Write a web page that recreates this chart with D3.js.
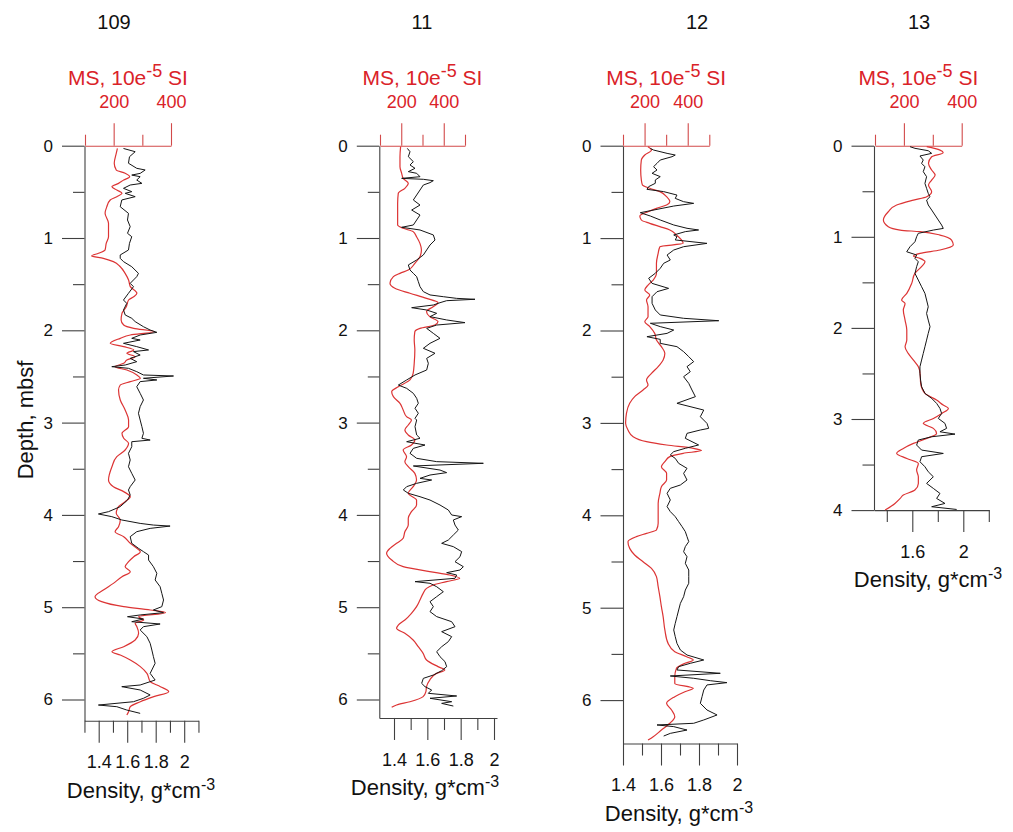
<!DOCTYPE html>
<html>
<head>
<meta charset="utf-8">
<script src="https://cdn.jsdelivr.net/npm/d3@7"></script>
<style>
  body { margin: 0; background: #fff; }
  svg { display: block; }
</style>
</head>
<body>
<svg id="chart" width="1013" height="832"></svg>
<script>
// ---- Core names -----------------------------------------------------------
const coreNames = ["109", "11", "12", "13"];

// ---- Tick values and labels ---------------------------------------------
const depthTicks6 = [0, 0.5, 1, 1.5, 2, 2.5, 3, 3.5, 4, 4.5, 5, 5.5, 6];
const depthTicks4 = [0, 0.5, 1, 1.5, 2, 2.5, 3, 3.5, 4];
const densTicks109 = [1.3, 1.4, 1.5, 1.6, 1.7, 1.8, 1.9, 2.0, 2.1];
const densTicks11 = [1.4, 1.5, 1.6, 1.7, 1.8, 1.9, 2.0];
const densTicks12 = [1.4, 1.5, 1.6, 1.7, 1.8, 1.9, 2.0];
const densTicks13 = [1.4, 1.6, 1.8, 2.0, 2.2];
const densLabels = [1.4, 1.6, 1.8, 2.0];
const densLabels13 = [1.6, 2.0];
const msTicks4 = [100, 200, 300, 400];
const msTicks5 = [100, 200, 300, 400, 500];
const msLabels = [200, 400];

// ---- Density profiles [depth m, g*cm-3] -----------------------------------
const dens109 = [[0.03,1.574],[0.065,1.656],[0.12,1.616],[0.19,1.609],[0.245,1.667],[0.263,1.726],[0.3,1.691],[0.318,1.632],[0.336,1.691],[0.372,1.667],[0.408,1.703],[0.426,1.621],[0.462,1.574],[0.498,1.632],[0.516,1.586],[0.552,1.656],[0.588,1.562],[0.661,1.551],[0.733,1.609],[0.805,1.602],[0.877,1.621],[0.949,1.602],[0.986,1.632],[1.058,1.616],[1.13,1.609],[1.184,1.551],[1.22,1.551],[1.256,1.574],[1.311,1.632],[1.383,1.679],[1.419,1.667],[1.455,1.644],[1.491,1.621],[1.527,1.644],[1.599,1.609],[1.672,1.574],[1.708,1.597],[1.78,1.574],[1.834,1.586],[1.87,1.632],[1.906,1.656],[1.961,1.714],[1.997,1.761],[2.022,1.808],[2.051,1.691],[2.087,1.632],[2.105,1.691],[2.141,1.574],[2.177,1.667],[2.213,1.75],[2.231,1.644],[2.268,1.691],[2.304,1.621],[2.34,1.667],[2.376,1.586],[2.394,1.492],[2.412,1.609],[2.448,1.667],[2.484,1.714],[2.495,1.925],[2.52,1.714],[2.538,1.808],[2.556,1.691],[2.611,1.667],[2.683,1.691],[2.755,1.714],[2.827,1.691],[2.899,1.679],[2.972,1.691],[3.044,1.703],[3.116,1.714],[3.17,1.703],[3.189,1.761],[3.207,1.632],[3.261,1.632],[3.333,1.609],[3.405,1.621],[3.478,1.609],[3.55,1.632],[3.622,1.656],[3.694,1.621],[3.73,1.609],[3.784,1.621],[3.839,1.602],[3.911,1.551],[3.965,1.469],[3.99,1.398],[4.019,1.492],[4.055,1.562],[4.092,1.691],[4.11,1.784],[4.121,1.901],[4.146,1.761],[4.182,1.667],[4.236,1.621],[4.308,1.632],[4.362,1.679],[4.398,1.714],[4.435,1.75],[4.489,1.75],[4.561,1.784],[4.633,1.808],[4.705,1.796],[4.778,1.831],[4.85,1.843],[4.922,1.855],[4.994,1.843],[5.03,1.784],[5.059,1.855],[5.084,1.691],[5.103,1.602],[5.128,1.714],[5.157,1.632],[5.182,1.831],[5.211,1.714],[5.247,1.691],[5.319,1.738],[5.391,1.761],[5.464,1.773],[5.536,1.784],[5.608,1.796],[5.717,1.761],[5.789,1.796],[5.843,1.691],[5.861,1.562],[5.897,1.691],[5.951,1.761],[5.987,1.714],[6.024,1.644],[6.06,1.398],[6.078,1.527],[6.114,1.597],[6.15,1.691]];

const dens11 = [[0.029,1.48],[0.065,1.496],[0.119,1.486],[0.173,1.516],[0.209,1.496],[0.245,1.526],[0.281,1.486],[0.299,1.536],[0.336,1.556],[0.354,1.446],[0.364,1.576],[0.379,1.636],[0.4,1.616],[0.426,1.576],[0.48,1.556],[0.534,1.536],[0.588,1.516],[0.643,1.556],[0.697,1.506],[0.751,1.556],[0.805,1.536],[0.859,1.516],[0.884,1.446],[0.913,1.556],[0.967,1.636],[1.022,1.646],[1.076,1.616],[1.13,1.596],[1.184,1.576],[1.238,1.536],[1.292,1.486],[1.347,1.496],[1.383,1.516],[1.419,1.536],[1.473,1.546],[1.527,1.556],[1.581,1.576],[1.617,1.616],[1.636,1.696],[1.654,1.776],[1.664,1.886],[1.679,1.716],[1.701,1.676],[1.726,1.636],[1.755,1.506],[1.78,1.596],[1.816,1.656],[1.852,1.616],[1.888,1.716],[1.917,1.826],[1.943,1.656],[1.979,1.596],[2.033,1.636],[2.087,1.676],[2.141,1.616],[2.195,1.576],[2.249,1.646],[2.304,1.596],[2.358,1.606],[2.43,1.596],[2.484,1.526],[2.538,1.476],[2.593,1.426],[2.629,1.476],[2.683,1.516],[2.737,1.536],[2.791,1.546],[2.845,1.526],[2.899,1.546],[2.954,1.526],[2.972,1.536],[3.044,1.526],[3.134,1.536],[3.17,1.556],[3.207,1.476],[3.243,1.586],[3.279,1.516],[3.333,1.496],[3.387,1.536],[3.423,1.656],[3.441,1.936],[3.47,1.516],[3.514,1.676],[3.542,1.716],[3.568,1.616],[3.604,1.556],[3.622,1.626],[3.658,1.536],[3.694,1.476],[3.73,1.456],[3.766,1.486],[3.803,1.556],[3.839,1.616],[3.893,1.676],[3.947,1.726],[4.001,1.746],[4.019,1.806],[4.055,1.756],[4.11,1.766],[4.164,1.786],[4.218,1.756],[4.272,1.726],[4.308,1.686],[4.344,1.756],[4.398,1.806],[4.453,1.796],[4.507,1.766],[4.561,1.816],[4.597,1.796],[4.626,1.716],[4.651,1.776],[4.687,1.766],[4.723,1.526],[4.741,1.616],[4.778,1.656],[4.832,1.696],[4.886,1.656],[4.94,1.616],[4.994,1.636],[5.048,1.616],[5.102,1.656],[5.157,1.746],[5.211,1.766],[5.265,1.686],[5.319,1.746],[5.373,1.726],[5.428,1.686],[5.482,1.656],[5.536,1.676],[5.59,1.706],[5.644,1.716],[5.688,1.686],[5.735,1.636],[5.771,1.576],[5.825,1.566],[5.861,1.586],[5.897,1.626],[5.933,1.606],[5.962,1.776],[5.987,1.616],[6.024,1.746],[6.042,1.686],[6.071,1.756]];

const dens12 = [[0.029,1.544],[0.047,1.561],[0.083,1.632],[0.101,1.675],[0.119,1.658],[0.155,1.596],[0.191,1.579],[0.227,1.561],[0.263,1.579],[0.299,1.553],[0.335,1.596],[0.371,1.57],[0.407,1.57],[0.443,1.535],[0.472,1.526],[0.497,1.614],[0.534,1.684],[0.57,1.675],[0.606,1.719],[0.624,1.772],[0.653,1.667],[0.689,1.579],[0.725,1.491],[0.761,1.544],[0.804,1.596],[0.858,1.667],[0.894,1.737],[0.912,1.798],[0.93,1.728],[0.966,1.667],[0.984,1.684],[1.02,1.675],[1.057,1.842],[1.093,1.719],[1.129,1.667],[1.183,1.632],[1.237,1.649],[1.273,1.614],[1.327,1.596],[1.381,1.57],[1.435,1.535],[1.49,1.553],[1.544,1.64],[1.58,1.579],[1.634,1.553],[1.706,1.553],[1.778,1.57],[1.832,1.596],[1.868,1.719],[1.894,1.904],[1.922,1.544],[1.958,1.596],[1.995,1.667],[2.031,1.632],[2.067,1.526],[2.096,1.596],[2.139,1.596],[2.175,1.684],[2.229,1.719],[2.283,1.746],[2.337,1.772],[2.391,1.737],[2.446,1.754],[2.5,1.719],[2.572,1.746],[2.644,1.763],[2.716,1.781],[2.788,1.684],[2.861,1.825],[2.933,1.807],[3.005,1.842],[3.059,1.851],[3.077,1.807],[3.113,1.737],[3.167,1.728],[3.239,1.798],[3.275,1.728],[3.311,1.667],[3.347,1.649],[3.384,1.675],[3.438,1.693],[3.492,1.737],[3.546,1.719],[3.618,1.737],[3.672,1.702],[3.708,1.649],[3.762,1.632],[3.834,1.649],[3.906,1.632],[3.96,1.649],[4.015,1.675],[4.069,1.693],[4.123,1.711],[4.177,1.728],[4.231,1.737],[4.285,1.746],[4.339,1.728],[4.394,1.719],[4.448,1.737],[4.52,1.728],[4.592,1.746],[4.664,1.746],[4.736,1.746],[4.809,1.728],[4.881,1.719],[4.953,1.702],[5.025,1.693],[5.097,1.684],[5.169,1.675],[5.241,1.667],[5.314,1.675],[5.386,1.684],[5.458,1.702],[5.512,1.737],[5.566,1.825],[5.602,1.754],[5.638,1.693],[5.674,1.684],[5.71,1.912],[5.739,1.649],[5.764,1.772],[5.79,1.86],[5.811,1.947],[5.836,1.842],[5.891,1.825],[5.963,1.816],[6.035,1.807],[6.107,1.842],[6.161,1.895],[6.215,1.825],[6.251,1.772],[6.269,1.579],[6.287,1.667],[6.324,1.737],[6.36,1.649],[6.389,1.614]];

const dens13 = [[0.011,1.582],[0.029,1.621],[0.055,1.725],[0.084,1.752],[0.113,1.66],[0.157,1.686],[0.194,1.673],[0.231,1.699],[0.285,1.686],[0.34,1.712],[0.414,1.699],[0.468,1.712],[0.523,1.725],[0.56,1.739],[0.597,1.712],[0.651,1.725],[0.706,1.752],[0.761,1.778],[0.816,1.804],[0.871,1.83],[0.908,1.843],[0.926,1.765],[0.962,1.647],[0.999,1.634],[1.054,1.621],[1.109,1.582],[1.164,1.556],[1.2,1.634],[1.237,1.621],[1.274,1.647],[1.328,1.634],[1.402,1.621],[1.475,1.647],[1.548,1.673],[1.621,1.699],[1.694,1.712],[1.768,1.725],[1.841,1.712],[1.914,1.725],[1.987,1.739],[2.06,1.725],[2.134,1.712],[2.207,1.699],[2.28,1.686],[2.353,1.673],[2.426,1.66],[2.5,1.66],[2.573,1.665],[2.646,1.673],[2.719,1.699],[2.774,1.752],[2.829,1.791],[2.884,1.817],[2.939,1.83],[2.994,1.804],[3.048,1.856],[3.103,1.869],[3.14,1.817],[3.166,1.935],[3.195,1.752],[3.231,1.647],[3.286,1.634],[3.341,1.673],[3.378,1.843],[3.414,1.673],[3.469,1.66],[3.524,1.699],[3.579,1.725],[3.634,1.765],[3.707,1.712],[3.762,1.765],[3.817,1.817],[3.872,1.791],[3.927,1.856],[3.963,1.752],[3.993,1.948]];

// ---- Magnetic susceptibility profiles [depth m, 10e-5 SI] ------------------
const ms109 = [[0.029,213],[0.083,209],[0.191,202],[0.263,209],[0.299,240],[0.336,256],[0.372,235],[0.408,217],[0.444,194],[0.48,211],[0.516,229],[0.552,211],[0.588,188],[0.661,176],[0.733,170],[0.841,182],[0.913,182],[0.986,182],[1.058,174],[1.13,170],[1.166,147],[1.195,123],[1.22,164],[1.256,199],[1.311,223],[1.383,240],[1.455,252],[1.527,258],[1.599,281],[1.636,270],[1.672,252],[1.744,244],[1.816,229],[1.888,226],[1.943,235],[1.979,270],[2.015,340],[2.051,258],[2.087,223],[2.141,188],[2.177,235],[2.213,270],[2.249,246],[2.286,275],[2.322,246],[2.358,235],[2.394,205],[2.43,246],[2.484,281],[2.52,293],[2.556,258],[2.593,223],[2.647,217],[2.755,223],[2.863,240],[2.972,252],[3.044,252],[3.116,229],[3.17,235],[3.225,252],[3.297,240],[3.369,211],[3.478,194],[3.622,182],[3.694,199],[3.748,235],[3.803,258],[3.857,240],[3.911,217],[3.983,209],[4.055,223],[4.128,217],[4.182,205],[4.236,235],[4.308,258],[4.362,281],[4.398,293],[4.453,270],[4.507,252],[4.561,240],[4.615,258],[4.669,229],[4.742,199],[4.814,164],[4.886,135],[4.94,158],[4.994,235],[5.03,328],[5.059,381],[5.103,287],[5.139,305],[5.175,275],[5.211,281],[5.283,287],[5.355,275],[5.428,235],[5.482,194],[5.518,223],[5.572,258],[5.644,293],[5.717,316],[5.807,328],[5.861,363],[5.915,392],[5.969,340],[6.024,293],[6.078,258],[6.132,252],[6.168,246]];

const ms11 = [[0.01,197],[0.119,194],[0.227,194],[0.299,202],[0.354,209],[0.408,233],[0.462,217],[0.516,186],[0.625,183],[0.769,183],[0.859,183],[0.895,209],[0.931,256],[0.986,272],[1.058,288],[1.13,295],[1.202,288],[1.274,264],[1.347,233],[1.383,194],[1.419,163],[1.491,147],[1.545,170],[1.599,241],[1.654,319],[1.701,373],[1.744,350],[1.798,319],[1.852,334],[1.906,373],[1.943,358],[1.979,288],[2.015,264],[2.105,261],[2.213,264],[2.358,261],[2.466,256],[2.538,241],[2.611,186],[2.665,155],[2.719,163],[2.791,194],[2.863,209],[2.936,225],[2.972,248],[3.026,233],[3.08,217],[3.134,233],[3.189,264],[3.243,248],[3.297,209],[3.369,225],[3.423,217],[3.478,233],[3.55,264],[3.622,272],[3.694,256],[3.766,233],[3.839,272],[3.893,272],[3.965,248],[4.037,233],[4.11,233],[4.182,217],[4.254,209],[4.308,178],[4.362,147],[4.416,131],[4.489,155],[4.561,209],[4.615,334],[4.651,428],[4.687,475],[4.723,413],[4.759,350],[4.796,319],[4.85,303],[4.922,288],[4.994,272],[5.066,248],[5.139,217],[5.193,186],[5.229,178],[5.283,217],[5.355,256],[5.428,280],[5.5,303],[5.572,319],[5.644,373],[5.681,405],[5.717,366],[5.789,334],[5.861,319],[5.915,316],[5.969,303],[6.024,241],[6.06,178],[6.085,155]];

const ms12 = [[0.01,216],[0.047,232],[0.101,201],[0.155,185],[0.263,182],[0.371,185],[0.425,190],[0.461,224],[0.497,271],[0.552,302],[0.606,317],[0.642,302],[0.678,255],[0.714,216],[0.761,178],[0.804,185],[0.84,224],[0.876,271],[0.912,317],[0.966,348],[1.02,371],[1.057,379],[1.093,271],[1.165,263],[1.273,255],[1.381,255],[1.454,240],[1.508,216],[1.562,201],[1.616,224],[1.67,209],[1.742,216],[1.85,216],[1.904,201],[1.958,224],[2.031,247],[2.103,255],[2.175,278],[2.247,294],[2.319,286],[2.391,263],[2.464,232],[2.536,209],[2.59,216],[2.644,193],[2.716,154],[2.788,131],[2.897,116],[3.005,112],[3.077,123],[3.149,147],[3.203,209],[3.239,302],[3.275,426],[3.3,464],[3.329,379],[3.365,317],[3.42,294],[3.474,278],[3.546,302],[3.618,302],[3.69,278],[3.762,271],[3.87,263],[3.979,263],[4.087,263],[4.159,255],[4.195,209],[4.231,162],[4.285,123],[4.358,131],[4.43,154],[4.502,193],[4.574,232],[4.664,255],[4.773,263],[4.881,271],[4.989,278],[5.097,286],[5.241,294],[5.386,309],[5.476,340],[5.53,395],[5.566,426],[5.602,387],[5.656,348],[5.746,340],[5.819,340],[5.873,426],[5.909,387],[5.963,340],[6.035,302],[6.107,325],[6.179,340],[6.251,317],[6.324,278],[6.396,240],[6.432,216]];

const ms13 = [[0.011,279],[0.048,325],[0.077,336],[0.121,296],[0.194,285],[0.267,296],[0.322,308],[0.377,296],[0.432,285],[0.505,296],[0.56,279],[0.597,233],[0.651,175],[0.725,146],[0.816,129],[0.889,146],[0.926,187],[0.944,256],[0.981,325],[1.036,365],[1.091,371],[1.145,325],[1.182,256],[1.211,233],[1.237,256],[1.274,273],[1.328,261],[1.402,238],[1.511,227],[1.621,210],[1.694,192],[1.731,204],[1.804,198],[1.914,204],[2.024,210],[2.134,210],[2.207,204],[2.28,215],[2.353,233],[2.426,250],[2.5,256],[2.609,258],[2.719,273],[2.792,313],[2.847,336],[2.884,354],[2.939,331],[2.994,302],[3.048,267],[3.103,302],[3.158,313],[3.213,279],[3.268,233],[3.323,198],[3.378,175],[3.433,210],[3.488,250],[3.561,244],[3.634,250],[3.707,250],[3.78,238],[3.835,198],[3.872,187],[3.927,169],[4.0,135]];

// ---- Panel assembly -------------------------------------------------------
const cores = [
  { name: coreNames[0], dens: dens109, ms: ms109, depthTicks: depthTicks6,
    densTicks: densTicks109, densLabels: densLabels, msTicks: msTicks4 },
  { name: coreNames[1], dens: dens11, ms: ms11, depthTicks: depthTicks6,
    densTicks: densTicks11, densLabels: densLabels, msTicks: msTicks5 },
  { name: coreNames[2], dens: dens12, ms: ms12, depthTicks: depthTicks6,
    densTicks: densTicks12, densLabels: densLabels, msTicks: msTicks5 },
  { name: coreNames[3], dens: dens13, ms: ms13, depthTicks: depthTicks4,
    densTicks: densTicks13, densLabels: densLabels13, msTicks: msTicks4 }
];

// Geometry of each log column (pixels)
const layout = [
  { x0: 84.5, yTop: 145.7, yPerM: 92.3, depthMax: 6.23,
    densAt: [[1.4, 98.7], [2.0, 184.2]], densEnd: 198.5,
    msRange: [85, 171], msDomain: [100, 400],
    titleX: 114, densTitleX: 141 },
  { x0: 379.3, yTop: 145.7, yPerM: 92.3, depthMax: 6.2,
    densAt: [[1.4, 394], [2.0, 494]], densEnd: 497,
    msRange: [380, 465], msDomain: [100, 500],
    titleX: 422, densTitleX: 425 },
  { x0: 623, yTop: 145.7, yPerM: 92.4, depthMax: 6.47,
    densAt: [[1.4, 623], [2.0, 737]], densEnd: 737,
    msRange: [623, 709.3], msDomain: [100, 500],
    titleX: 697, densTitleX: 679 },
  { x0: 874, yTop: 145.7, yPerM: 91.1, depthMax: 4.0,
    densAt: [[1.6, 912.3], [2.0, 963.3]], densEnd: 989,
    msRange: [875, 961.7], msDomain: [100, 400],
    titleX: 919, densTitleX: 928 }
];

const FONT = "Arial, 'Liberation Sans', Helvetica, sans-serif";
const AXIS = "#404040";
const RED_TEXT = "#da2228";
const RED_AXIS = "#d24a4a";
const RED_LINE = "#dc3434";
const BLACK_LINE = "#151515";

const svg = d3.select("#chart");
const fmt1 = d => String(+d.toFixed(1));
const has = (arr, v) => arr.some(a => Math.abs(a - v) < 1e-6);

cores.forEach((c, i) => {
  const L = layout[i];
  const g = svg.append("g").attr("font-family", FONT);
  const yBottom = L.yTop + L.depthMax * L.yPerM;

  const y = d3.scaleLinear().domain([0, L.depthMax]).range([L.yTop, yBottom]);
  const xD0 = d3.scaleLinear().domain(L.densAt.map(a => a[0])).range(L.densAt.map(a => a[1]));
  const xD = d3.scaleLinear()
    .domain([xD0.invert(L.x0), xD0.invert(L.densEnd)])
    .range([L.x0, L.densEnd]);
  const xM = d3.scaleLinear().domain(L.msDomain).range(L.msRange);

  // core title
  g.append("text").attr("x", L.titleX).attr("y", 29)
    .attr("text-anchor", "middle").attr("font-size", 20).attr("fill", "#111")
    .text(c.name);

  // depth axis
  const depthAxis = d3.axisLeft(y).tickValues(c.depthTicks)
    .tickSize(22.5).tickSizeOuter(0).tickPadding(9)
    .tickFormat(d => Number.isInteger(d) ? String(d) : "");
  const gDepth = g.append("g").attr("transform", `translate(${L.x0},0)`).call(depthAxis);
  gDepth.attr("font-family", FONT).attr("font-size", 17);
  gDepth.select(".domain").attr("stroke", AXIS).attr("stroke-width", 1.1);
  gDepth.selectAll(".tick line").attr("stroke", AXIS).attr("stroke-width", 1.1)
    .filter(d => !Number.isInteger(d)).attr("x2", -11.5);
  gDepth.selectAll(".tick text").attr("fill", "#111");

  // density axis at the bottom of the column
  const densAxis = d3.axisBottom(xD).tickValues(c.densTicks)
    .tickSize(22).tickSizeOuter(0).tickPadding(13)
    .tickFormat(d => has(c.densLabels, d) ? fmt1(d) : "");
  const gDens = g.append("g").attr("transform", `translate(0,${yBottom})`).call(densAxis);
  gDens.attr("font-family", FONT).attr("font-size", 18);
  gDens.select(".domain").attr("stroke", AXIS).attr("stroke-width", 1.1);
  gDens.selectAll(".tick line").attr("stroke", AXIS).attr("stroke-width", 1.1)
    .filter(d => !has(c.densLabels, d)).attr("y2", 12);
  gDens.selectAll(".tick text").attr("fill", "#111");

  const dt = g.append("text").attr("x", L.densTitleX).attr("y", yBottom + 77)
    .attr("text-anchor", "middle").attr("font-size", 22).attr("fill", "#111");
  dt.append("tspan").text("Density, g*cm");
  dt.append("tspan").attr("font-size", 16).attr("dy", -8).text("-3");

  // magnetic susceptibility axis on top
  const msAxis = d3.axisTop(xM).tickValues(c.msTicks)
    .tickSize(22.5).tickSizeOuter(0).tickPadding(15)
    .tickFormat(d => has(msLabels, d) ? String(d) : "");
  const gMs = g.append("g").attr("transform", `translate(0,${L.yTop})`).call(msAxis);
  gMs.attr("font-family", FONT).attr("font-size", 18);
  gMs.select(".domain").attr("stroke", RED_AXIS).attr("stroke-width", 1.1);
  gMs.selectAll(".tick line").attr("stroke", RED_AXIS).attr("stroke-width", 1.1)
    .filter(d => !has(msLabels, d)).attr("y2", -11);
  gMs.selectAll(".tick text").attr("fill", RED_TEXT);

  const mt = g.append("text").attr("x", (L.msRange[0] + L.msRange[1]) / 2).attr("y", 84.5)
    .attr("text-anchor", "middle").attr("font-size", 21).attr("fill", RED_TEXT);
  mt.append("tspan").text("MS, 10e");
  mt.append("tspan").attr("font-size", 18).attr("dy", -8).text("-5");
  mt.append("tspan").attr("dy", 8).text(" SI");

  // profiles
  const densLine = d3.line().x(d => xD(d[1])).y(d => y(d[0]));
  const msLine = d3.line().x(d => xM(d[1])).y(d => y(d[0])).curve(d3.curveMonotoneY);

  g.append("path").datum(c.ms).attr("d", msLine)
    .attr("fill", "none").attr("stroke", RED_LINE).attr("stroke-width", 1.2);
  g.append("path").datum(c.dens).attr("d", densLine)
    .attr("fill", "none").attr("stroke", BLACK_LINE).attr("stroke-width", 1)
    .attr("stroke-linejoin", "round");
});

// shared depth title
svg.append("text")
  .attr("transform", "translate(25,420) rotate(-90)")
  .attr("text-anchor", "middle").attr("dominant-baseline", "central")
  .attr("font-family", FONT).attr("font-size", 22).attr("fill", "#111")
  .text("Depth, mbsf");
</script>
</body>
</html>
